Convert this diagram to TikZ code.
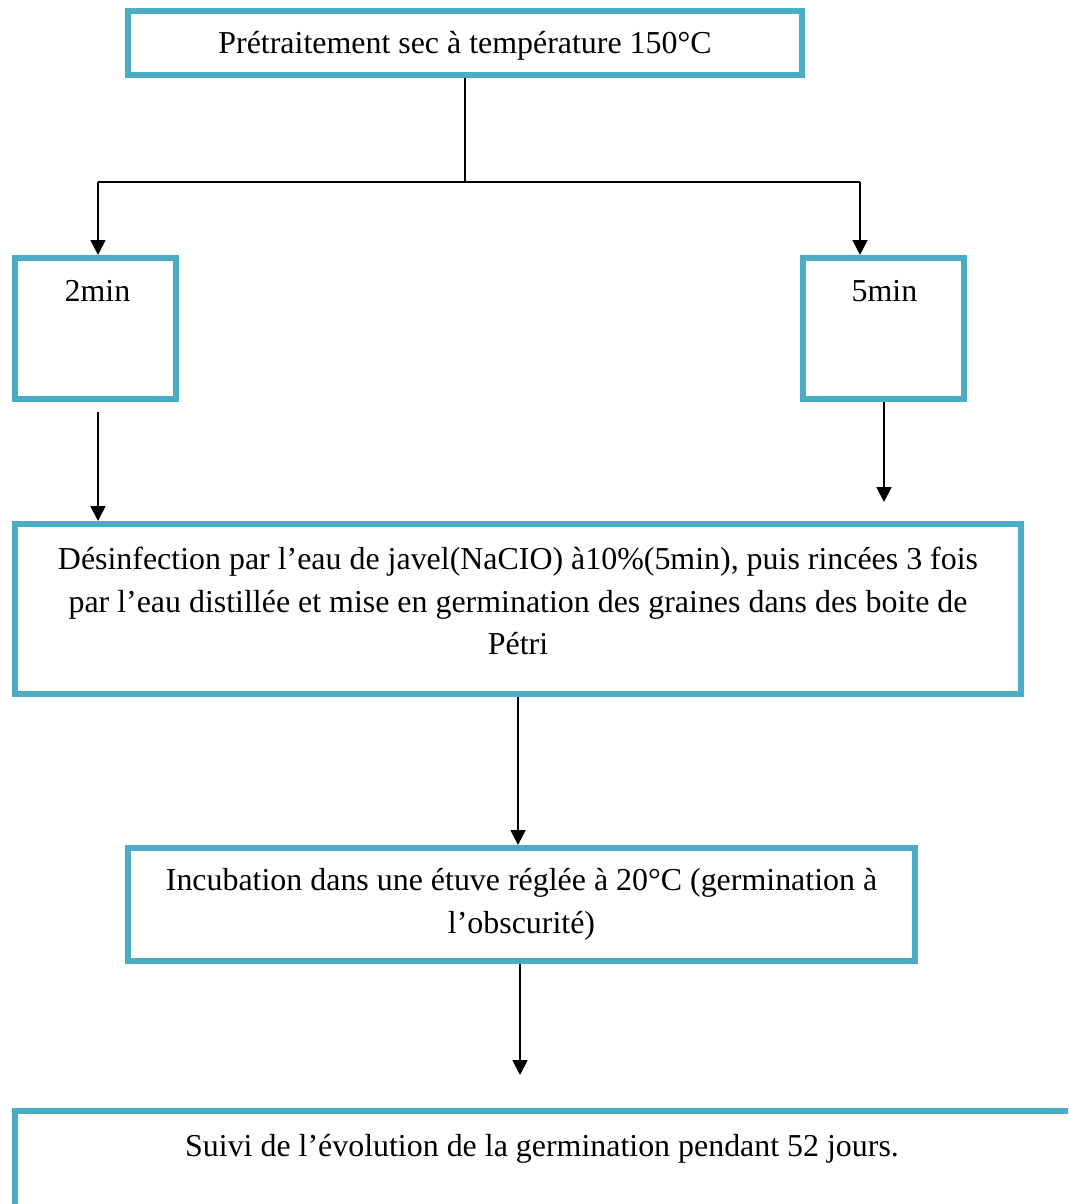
\documentclass[tikz,border=0pt]{standalone}
\usepackage{fontspec}
\setmainfont{Liberation Serif}
\usepackage{xcolor}
\usetikzlibrary{arrows.meta,positioning,calc}
\definecolor{boxblue}{HTML}{4BACC6}
\newcommand{\Ptext}{\fontsize{22.7}{30.2}\selectfont}
\tikzset{
  Pbox/.style={draw=boxblue, line width=4.3pt, align=center, inner sep=0pt,
               font=\Ptext},
  Ptag/.style={font=\Ptext, anchor=base, inner sep=0pt},
  Pmid/.style={font=\Ptext, align=center, inner sep=0pt},
  Nline/.style={line width=1.4pt},
  Narr/.style={-{Triangle[length=10.5pt,width=10.5pt]}, line width=1.4pt}
}

\begin{document}
\begin{tikzpicture}[x=0.025cm, y=-0.025cm]
  \useasboundingbox (0,0) rectangle (1068,1204);
  \clip (0,0) rectangle (1068,1204);
  \node[Pbox, minimum width=16.85cm, minimum height=1.6cm] (pre) at (465,43) {};
  \node[Pmid] (prelab) at ($(pre.center)+(0,3)$)
    {Prétraitement sec à température 150°C};
  \node[Pbox, minimum width=4.025cm, minimum height=3.525cm] (t2) at (95.5,328.5) {};
  \node[Pbox, minimum width=4.025cm, minimum height=3.525cm] (t5) at (883.5,328.5) {};
  \node[Ptag] (t2lab) at ($(t2.north)+(2,47)$) {2min};
  \node[Ptag] (t5lab) at ($(t5.north)+(1,47)$) {5min};
  \node[Pbox, minimum width=25.15cm, minimum height=4.25cm] (des) at (518,609) {};
  \node[Pmid] (deslab) at ($(des.center)+(0,-8)$)
    {Désinfection par l’eau de javel(NaCIO) à10\%(5min), puis rincées 3 fois\\
     par l’eau distillée et mise en germination des graines dans des boite de\\
     Pétri};
  \node[Pbox, minimum width=19.675cm, minimum height=2.825cm] (inc) at (521.5,904.5)
    {Incubation dans une étuve réglée à 20°C (germination à\\ l’obscurité)};
  \node[Pbox, minimum width=26.5cm, minimum height=3.7cm] (suivi) at (545,1185) {};
  \node[Ptag] (suivilab) at ($(suivi.north)+(-3,49)$)
    {Suivi de l’évolution de la germination pendant 52 jours.};

  \coordinate (jL) at (98,182);
  \coordinate (jR) at (860,182);
  \coordinate (o2) at (98,412);
  \coordinate (o5) at (884,502);
  \coordinate (o6) at (520,1075);
  \draw[Nline] (pre.south) -- (pre.south |- jL);
  \draw[Nline] (jL) -- (jR);
  \draw[Narr] (jL) -- (jL |- t2.north);
  \draw[Narr] (jR) -- (jR |- t5.north);
  \draw[Narr] (o2) -- (o2 |- des.north);
  \draw[Narr] (o5 |- t5.south) -- (o5);
  \draw[Narr] (des.south) -- (des.south |- inc.north);
  \draw[Narr] (o6 |- inc.south) -- (o6);
\end{tikzpicture}
\end{document}
